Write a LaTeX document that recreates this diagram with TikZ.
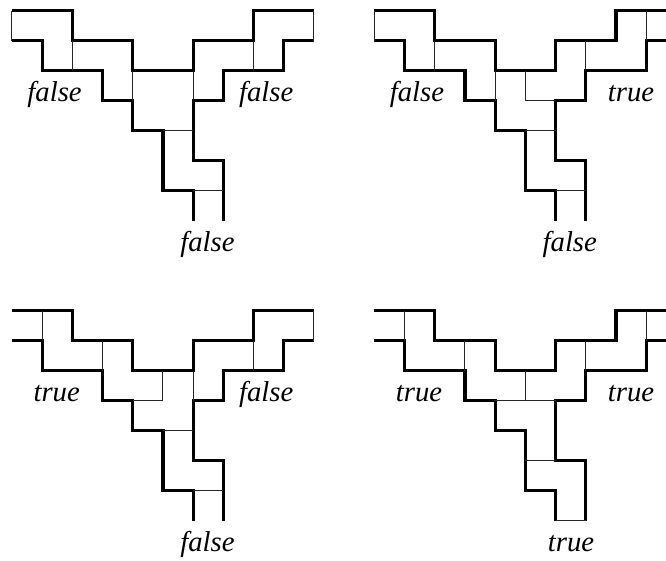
\documentclass[tikz,border=0pt]{standalone}
\usepackage{fontspec}
\setmainfont{Liberation Serif}
\tikzset{
  wire/.style={line width=2.6pt, black},
  gate/.style={line width=0.85pt, black!85},
  val/.style={anchor=base, inner sep=0pt, font=\fontsize{24.5}{26}\selectfont\itshape}
}
\begin{document}
\begin{tikzpicture}[x=0.906cm, y=-0.9cm]
\clip (-0.397,-0.357) rectangle (21.656,18.31);
\foreach \sx/\sy in {0/0, 12/0, 0/10, 12/10} {
\draw[wire, shift={(\sx,\sy)}]
(0,0) -- (2,0) -- (2,1) -- (4,1) -- (4,2) -- (6,2) -- (6,1) -- (8,1) -- (8,0) -- (10,0)
(10,1) -- (9,1) -- (9,2) -- (7,2) -- (7,3) -- (6,3) -- (6,5) -- (7,5) -- (7,7)
(6,7) -- (6,6) -- (5,6) -- (5,4) -- (4,4) -- (4,3) -- (3,3) -- (3,2) -- (1,2) -- (1,1) -- (0,1);
}
% false false false
\begin{scope}
\draw[gate]
(0,0) -- (0,1)
(2,1) -- (2,2)
(4,2) -- (4,3)
(6,2) -- (6,3)
(5,4) -- (6,4)
(6,6) -- (7,6)
(8,1) -- (8,2)
(10,0) -- (10,1);
\node[val] (aleft) at (1.41,3.02) {false};
\node[val] (aright) at (8.42,3.02) {false};
\node[val] (abottom) at (6.47,8.02) {false};
\end{scope}
% false true false
\begin{scope}[shift={(12,0)}]
\draw[gate]
(0,0) -- (0,1)
(2,1) -- (2,2)
(4,2) -- (4,3)
(5,2) -- (5,3) -- (6,3)
(5,4) -- (6,4)
(6,6) -- (7,6)
(7,1) -- (7,2)
(9,0) -- (9,1);
\node[val] (bleft) at (1.41,3.02) {false};
\node[val] (bright) at (8.5,3.02) {true};
\node[val] (bbottom) at (6.47,8.02) {false};
\end{scope}
% true false false
\begin{scope}[shift={(0,10)}]
\draw[gate]
(1,0) -- (1,1)
(3,1) -- (3,2)
(5,2) -- (5,3) -- (4,3)
(6,2) -- (6,3)
(5,4) -- (6,4)
(6,6) -- (7,6)
(8,1) -- (8,2)
(10,0) -- (10,1);
\node[val] (cleft) at (1.48,3.02) {true};
\node[val] (cright) at (8.42,3.02) {false};
\node[val] (cbottom) at (6.47,8.02) {false};
\end{scope}
% true true true
\begin{scope}[shift={(12,10)}]
\draw[gate]
(1,0) -- (1,1)
(3,1) -- (3,2)
(5,2) -- (5,3)
(4,3) -- (6,3)
(5,5) -- (6,5)
(6,7) -- (7,7)
(7,1) -- (7,2)
(9,0) -- (9,1);
\node[val] (dleft) at (1.48,3.02) {true};
\node[val] (dright) at (8.5,3.02) {true};
\node[val] (dbottom) at (6.51,8.02) {true};
\end{scope}
\end{tikzpicture}
\end{document}
